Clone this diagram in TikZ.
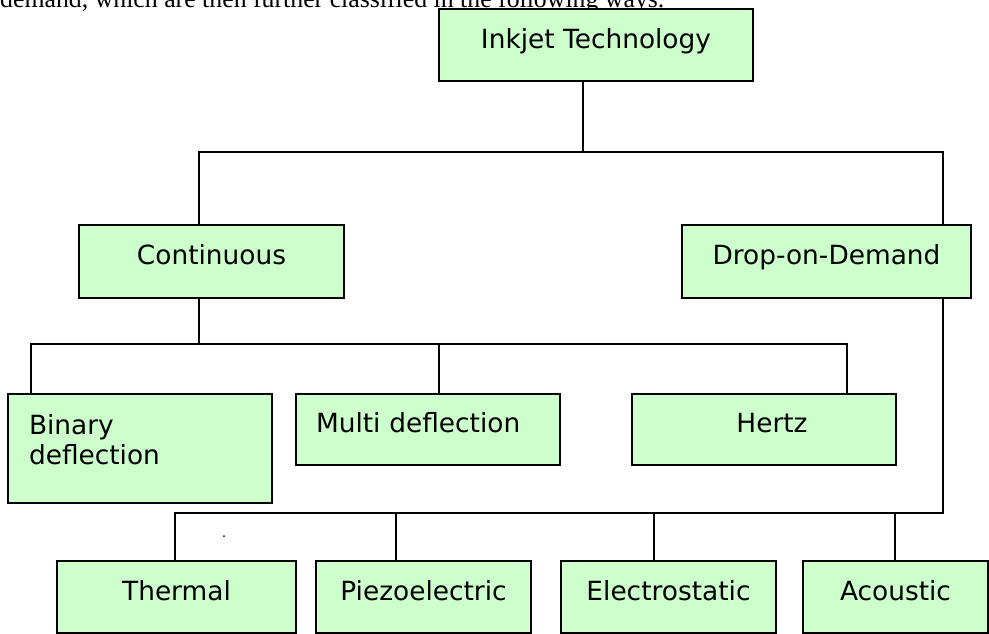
\documentclass[tikz,border=0pt]{standalone}
\usepackage{fontspec}
\setmainfont{DejaVu Sans}
\newfontfamily\serifbody{Liberation Serif}
\definecolor{boxgreen}{HTML}{CCFFCC}
\begin{document}
\begin{tikzpicture}[x=1pt,y=-1pt,
  box/.style={draw=black, line width=2pt, fill=boxgreen, rectangle, inner sep=0pt,
    anchor=north west, font=\fontsize{26.4}{30}\selectfont, text height=20pt, text depth=14pt},
  multibox/.style={draw=black, line width=2pt, fill=boxgreen, rectangle, inner sep=0pt,
    anchor=north west, font=\fontsize{26.4}{30}\selectfont},
  conn/.style={draw=black, line width=2pt},
  thinconn/.style={draw=black, line width=1.4pt}]
\useasboundingbox (0,0) rectangle (989,633);
\clip (0,0) rectangle (989,633);
\fill[white] (0,0) rectangle (989,633);

% partial line of body text at top (cut by the page edge, as in the source)
\node[anchor=base west, inner sep=0pt, font=\serifbody\fontsize{25.8}{30}\selectfont] (intro) at (0,7)
  {demand, which are then further classified in the following ways.};

% boxes
\node[box, minimum width=314pt, minimum height=72pt] (ink) at (438,8) {Inkjet Technology};
\node[box, minimum width=265pt, minimum height=73pt] (cont) at (78,224) {Continuous};
\node[box, minimum width=289pt, minimum height=73pt] (drop) at (681,224) {Drop-on-Demand};
\node[multibox, minimum width=264pt, minimum height=109pt, text width=222pt, align=left] (bin) at (7,393)
  {Binary\\deflection\rule[-19pt]{0pt}{19pt}};
\node[box, minimum width=264pt, minimum height=71pt, text width=224pt, align=left] (multi) at (295,393) {Multi deflection};
\node[box, minimum width=264pt, minimum height=71pt] (hertz) at (631,393) {\hspace{16pt}Hertz};
\node[box, minimum width=239pt, minimum height=72pt] (therm) at (56,560) {Thermal};
\node[box, minimum width=215pt, minimum height=72pt] (piezo) at (315,560) {Piezoelectric};
\node[box, minimum width=215pt, minimum height=72pt] (elec) at (560,560) {Electrostatic};
\node[box, minimum width=185pt, minimum height=72pt] (acou) at (802,560) {Acoustic};

% junction coordinates
\coordinate (b1m) at (583,152);
\coordinate (b1l) at (199,152);
\coordinate (b1r) at (943,152);
\coordinate (b2c) at (199,344);
\coordinate (b2a) at (31,344);
\coordinate (b2b) at (439,344);
\coordinate (b2d) at (847,344);
\coordinate (b3e) at (943,513);
\coordinate (b3a) at (175,513);
\coordinate (b3b) at (396,513);
\coordinate (b3c) at (654,513);
\coordinate (b3d) at (895,513);

% connectors
\draw[conn] (ink.south -| b1m) -- (b1m);
\draw[conn] (cont.north -| b1l) -- (b1l) -- (b1r) -- (drop.north -| b1r);
\draw[conn] (cont.south -| b2c) -- (b2c);
\draw[conn] (bin.north -| b2a) -- (b2a) -- (b2d) -- (hertz.north -| b2d);
\draw[conn] (b2b) -- (multi.north -| b2b);
\draw[conn] (drop.south -| b3e) -- (b3e) -- (b3a) -- (therm.north -| b3a);
\draw[thinconn] (b3b) -- (piezo.north -| b3b);
\draw[thinconn] (b3c) -- (elec.north -| b3c);
\draw[thinconn] (b3d) -- (acou.north -| b3d);

% small speck
\fill[black] (224,536) circle (1pt);
\end{tikzpicture}
\end{document}
